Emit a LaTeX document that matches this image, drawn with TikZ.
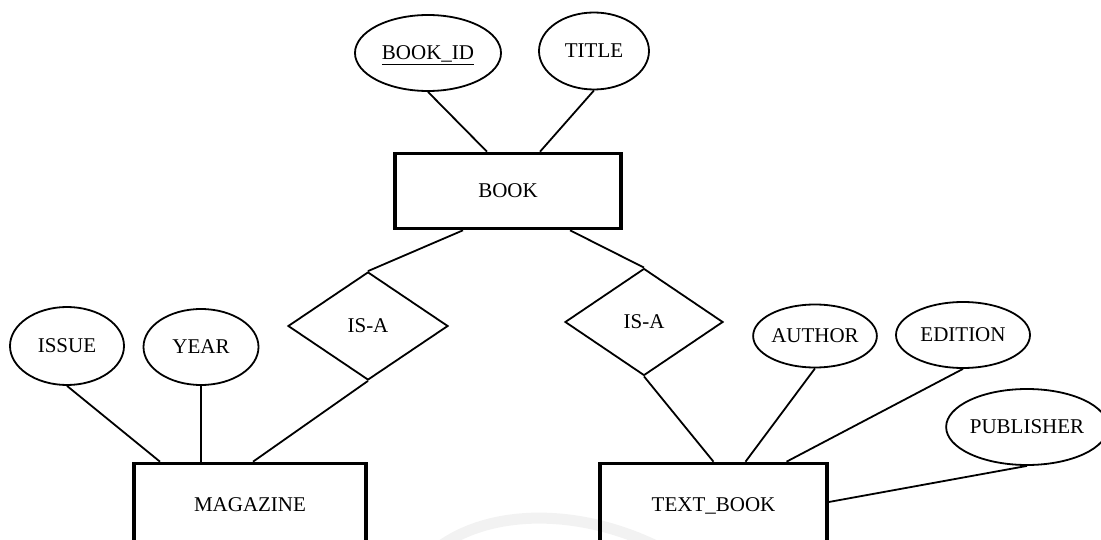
\documentclass[tikz,border=0pt]{standalone}
\usepackage{fontspec}
\setmainfont{Liberation Serif}
\usetikzlibrary{shapes.geometric,calc}

\begin{document}
\begin{tikzpicture}[x=1pt,y=-1pt,
  every node/.style={font=\fontsize{21}{24}\selectfont, inner sep=0pt, text depth=0pt},
  entity/.style={draw, rectangle, line width=3.6pt},
  attr/.style={draw, ellipse, line width=1.8pt},
  isa/.style={draw, diamond, line width=1.8pt},
  link/.style={line width=1.8pt}]
  \useasboundingbox (0,0) rectangle (1101,540);
  \clip (0,0) rectangle (1101,540);

  % faint stamp arc along the bottom
  \draw[black!5, line width=11pt] (420,565) .. controls (470,505) and (590,500) .. (690,565);

  % entities
  \node[entity, minimum width=226, minimum height=75] (book) at (508,191) {BOOK};
  \node[entity, minimum width=232, minimum height=83] (magazine) at (250,505) {MAGAZINE};
  \node[entity, minimum width=227, minimum height=83] (textbook) at (713.5,505) {TEXT\_BOOK};

  % attributes
  \node[attr, minimum width=146, minimum height=76] (bookid) at (428,53) {\underline{BOOK\_ID}};
  \node[attr, minimum width=110, minimum height=77] (title) at (594,51) {TITLE};
  \node[attr, minimum width=114, minimum height=78] (issue) at (67,346) {ISSUE};
  \node[attr, minimum width=115, minimum height=76] (year) at (201,347) {YEAR};
  \node[attr, minimum width=123, minimum height=63] (author) at (815,336) {AUTHOR};
  \node[attr, minimum width=134, minimum height=66] (edition) at (963,335) {EDITION};
  \node[attr, minimum width=147, minimum height=76] (publisher) at (1027,427) {PUBLISHER};

  % specialisation diamonds
  \node[isa, minimum width=160, minimum height=108] (isaL) at (368,326) {IS-A};
  \node[isa, minimum width=158, minimum height=107] (isaR) at (644,322) {IS-A};

  % connectors
  \draw[link] (bookid.south) -- ([xshift=-21pt]book.north);
  \draw[link] (title.south) -- ([xshift=32pt]book.north);
  \draw[link] ([xshift=-45pt]book.south) -- (isaL.north);
  \draw[link] ([xshift=62pt]book.south) -- (isaR.north);
  \draw[link] (isaL.south) -- ([xshift=3pt]magazine.north);
  \draw[link] (issue.south) -- ([xshift=-90pt]magazine.north);
  \draw[link] (year.south) -- ([xshift=-49pt]magazine.north);
  \draw[link] (isaR.south) -- (textbook.north);
  \draw[link] (author.south) -- ([xshift=32pt]textbook.north);
  \draw[link] (edition.south) -- ([xshift=73pt]textbook.north);
  \draw[link] (publisher.south) -- ([yshift=3pt]textbook.east);
\end{tikzpicture}
\end{document}
